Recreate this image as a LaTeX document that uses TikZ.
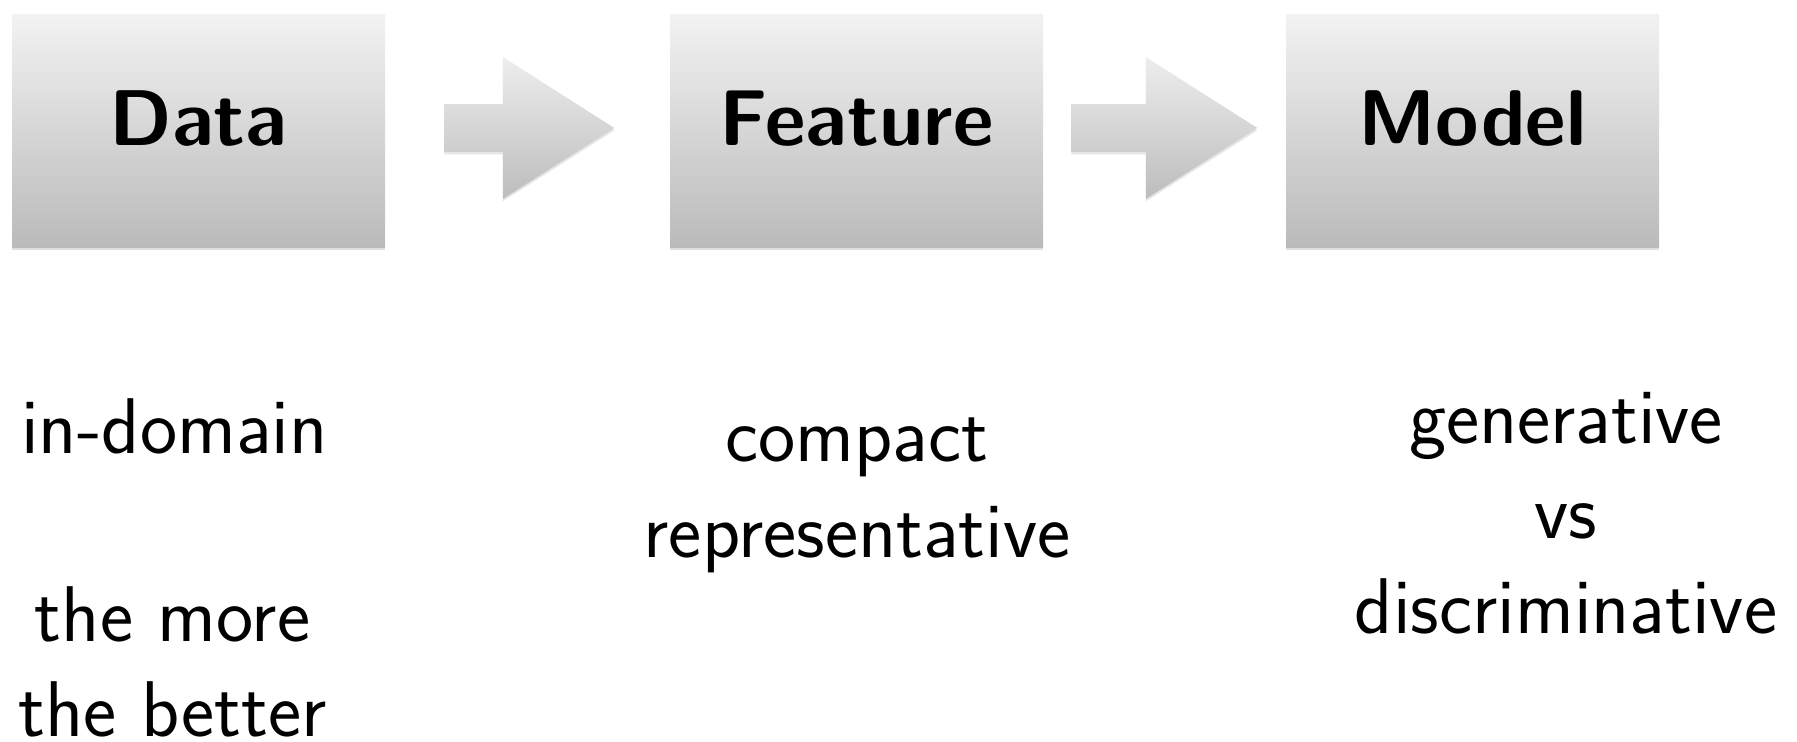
\documentclass[tikz,border=0pt]{standalone}
\usepackage{tikz}
\usetikzlibrary{shapes.arrows,shadows,calc}

\begin{document}
\begin{tikzpicture}[x=0.5pt,y=0.5pt,
    stage/.style={rectangle,minimum width=186.5pt,minimum height=116.5pt,inner sep=0pt,
      top color=white!95!black,bottom color=white!73!black,
      drop shadow={shadow xshift=0pt,shadow yshift=-1.2pt,opacity=0.25},
      font=\sffamily\bfseries\fontsize{39.5}{46}\selectfont,text depth=12.5pt},
    flow/.style={single arrow,inner xsep=0pt,inner ysep=11.75pt,
      single arrow head extend=23.5pt,single arrow tip angle=65,
      top color=white!93!black,bottom color=white!74!black,
      drop shadow={shadow xshift=0pt,shadow yshift=-1.2pt,opacity=0.2}},
    note/.style={anchor=base,align=center,inner sep=0pt,font=\sffamily\fontsize{39.5}{47.5}\selectfont}]
  \useasboundingbox (0,0) rectangle (1797,-742);

  % the three stages
  \node[stage] (data) at (198.5,-131) {Data};
  \node[stage] (feature) at (856.5,-131) {Feature};
  \node[stage] (model) at (1472.5,-131) {Model};

  % block arrows between the stages
  \node[flow,minimum height=85pt] (d2f) at ($(data.east)!0.5!(feature.west)+(-17,3)$) {};
  \node[flow,minimum height=93pt] (f2m) at ($(feature.east)!0.5!(model.west)+(-19,3)$) {};

  % remarks under each stage (base = last line)
  \node[note] (indomain) at (174.5,-453) {in-domain};
  \node[note] (more) at (172.5,-736) {the more\\the better};
  \node[note] (compact) at (857,-557) {compact\\representative};
  \node[note] (versus) at (1566,-633) {generative\\vs\\discriminative};
\end{tikzpicture}
\end{document}
